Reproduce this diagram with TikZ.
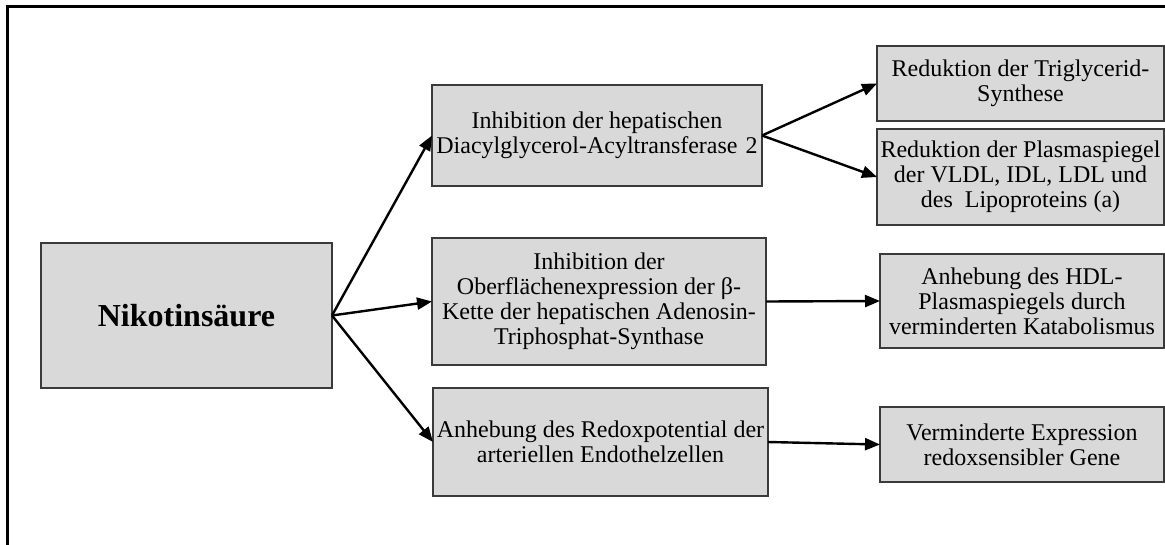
\documentclass[tikz,border=0pt]{standalone}
\usepackage{fontspec}
\setmainfont{Liberation Serif}
\usetikzlibrary{arrows.meta}
\definecolor{boxgray}{HTML}{D9D9D9}
\definecolor{boxline}{HTML}{3A3A3A}
\tikzset{
  box/.style={draw=boxline,line width=1.3pt,fill=boxgray,align=center,
    inner sep=0pt,outer sep=0pt,font=\fontsize{24}{25}\selectfont},
  pfeil/.style={line width=2.4pt,-{Triangle[length=15pt,width=12pt]}}
}
\begin{document}
\begin{tikzpicture}[x=1pt,y=-1pt]
\useasboundingbox (0,0) rectangle (1165,544);
\draw[line width=3pt] (7,570) |- (1190,6.5);
\node[box,minimum width=291pt,minimum height=145pt,font=\fontsize{32}{36}\selectfont\bfseries] (nik) at (186.5,315.5) {Nikotinsäure};
\node[box,minimum width=330pt,minimum height=101pt] (dgat) at (597,135.5) {Inhibition der hepatischen\\Diacylglycerol-Acyltransferase\,\,2};
\node[box,minimum width=334pt,minimum height=127pt] (atp) at (599,301.5) {Inhibition der\\Oberflächenexpression der β-\\Kette der hepatischen Adenosin-\\Triphosphat-Synthase};
\node[box,minimum width=335pt,minimum height=108pt] (redox) at (600.5,442) {Anhebung des Redoxpotential der\\arteriellen Endothelzellen};
\node[box,minimum width=287pt,minimum height=75pt] (tg) at (1020.5,83.5) {Reduktion der Triglycerid-\\Synthese};
\node[box,minimum width=287pt,minimum height=96pt] (vldl) at (1020.5,177) {Reduktion der Plasmaspiegel\\der VLDL, IDL, LDL und\\des\ \ Lipoproteins (a)};
\node[box,minimum width=284pt,minimum height=94pt] (hdl) at (1022,301) {Anhebung des HDL-\\Plasmaspiegels durch\\verminderten Katabolismus};
\node[box,minimum width=284pt,minimum height=75pt] (gene) at (1022,444.5) {Verminderte Expression\\redoxsensibler Gene};
\foreach \z in {dgat,atp,redox}\draw[pfeil] (nik.east) -- (\z.west);
\draw[pfeil] (dgat.east) -- (tg.west);
\draw[pfeil] (dgat.east) -- (vldl.west);
\draw[pfeil] (atp.east) -- (hdl.west);
\draw[pfeil] (redox.east) -- (gene.west);
\end{tikzpicture}
\end{document}
